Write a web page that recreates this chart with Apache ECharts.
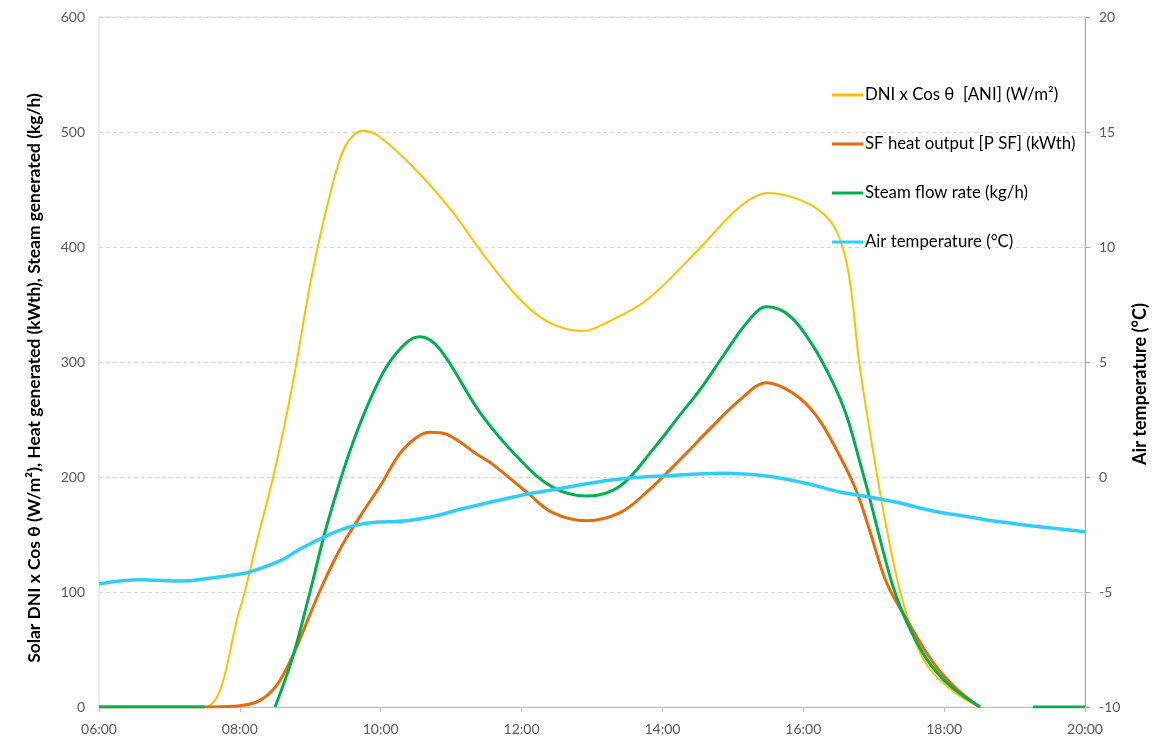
<!DOCTYPE html>
<html>
<head>
<meta charset="utf-8">
<script src="https://cdn.jsdelivr.net/npm/echarts@6/dist/echarts.min.js"></script>
<style>html,body{margin:0;padding:0;background:#fff;}#c{width:1162px;height:736px;}</style>
</head>
<body>
<div id="c"></div>
<script>
// ---- DATA (time in decimal hours) ----
const xTickLabels = ['06:00','08:00','10:00','12:00','14:00','16:00','18:00','20:00'];
const leftTicks = [0,100,200,300,400,500,600];
const rightTicks = [-10,-5,0,5,10,15,20];

const seriesNames = ['DNI x Cos θ  [ANI] (W/m²)','SF heat output [P SF] (kWth)','Steam flow rate (kg/h)','Air temperature (°C)'];
const leftTitle = 'Solar DNI x Cos θ (W/m²), Heat generated (kWth), Steam generated (kg/h)';
const rightTitle = 'Air temperature (°C)';

const dniHours  = [6.0, 6.75, 7.5, 8.0, 8.25, 8.5, 8.75, 9.0, 9.25, 9.5, 9.75, 10.0, 10.5, 11.0, 11.5, 12.0, 12.4, 12.85, 13.3, 13.8, 14.5, 15.1, 15.5, 15.95, 16.3, 16.5, 16.65, 16.8, 17.0, 17.2, 17.4, 17.7, 18.1, 18.5];
const dniValues = [0, 0, 0, 85, 146, 207, 281, 368, 438, 488, 501, 495, 467, 432, 390, 353, 334, 327, 337, 355, 397, 435, 447, 441, 428, 410, 375, 297, 219, 150, 95, 42, 15, 0];

const sfHours  = [6.0, 7.0, 7.6, 8.0, 8.28, 8.52, 8.75, 9.13, 9.42, 9.71, 9.99, 10.32, 10.70, 10.94, 11.41, 11.59, 12.07, 12.44, 12.92, 13.40, 13.78, 14.25, 14.63, 15.10, 15.48, 15.85, 16.19, 16.52, 16.76, 16.95, 17.18, 17.47, 17.84, 18.18, 18.51];
const sfValues = [0, 0, 0, 1, 5.5, 18.5, 44.5, 100, 137, 166, 192, 224, 239, 237, 218, 211, 187, 169, 162, 169, 187, 215, 239, 267, 282, 273, 253, 218, 187, 152, 108.5, 76, 39, 15.6, 0];

const steamHours  = [6.0, 7.5, 8.0, 8.50, 8.754, 8.996, 9.2, 9.4, 9.6, 9.848, 10.085, 10.369, 10.558, 10.842, 11.41, 11.978, 12.446, 12.925, 13.397, 13.866, 14.25, 14.535, 14.86, 15.196, 15.48, 15.81, 16.138, 16.42, 16.616, 16.805, 16.947, 17.09, 17.273, 17.468, 17.752, 18.083, 18.51, 18.9, 19.26, 20.0];
const steamValues = [0, 0, null, 0, 44, 100, 150, 192, 229, 267, 296, 317, 322, 311, 256, 215, 191, 183.5, 192, 224, 254, 276, 305, 334, 348, 340, 314, 282, 253, 212.7, 180.6, 146, 105, 74, 41.7, 18.5, 0, null, 0, 0];

const airHours  = [6.0, 6.58, 7.19, 7.62, 8.0, 8.14, 8.57, 8.85, 9.23, 9.52, 9.80, 10.37, 10.74, 11.17, 12.07, 12.45, 13.30, 14.15, 14.86, 15.48, 16.0, 16.52, 16.90, 17.37, 17.84, 18.32, 18.79, 19.26, 20.0];
const airValues = [-4.65, -4.47, -4.52, -4.38, -4.22, -4.13, -3.65, -3.14, -2.56, -2.2, -2.01, -1.9, -1.72, -1.37, -0.75, -0.55, -0.12, 0.07, 0.16, 0.04, -0.25, -0.65, -0.85, -1.13, -1.48, -1.72, -1.95, -2.13, -2.38];

const colors = ['#FFC000', '#E46C0A', '#00B050', '#33CCFF'];

function pairs(h, v) { return h.map((x, i) => [x, v[i] === null ? '-' : v[i]]); }

const FONT = 'Lato, "Open Sans", sans-serif';
const SMOOTH = 0.35;

// fit a bold title to a target pixel length
const mctx = document.createElement('canvas').getContext('2d');
function fitSize(text, target) {
  mctx.font = 'bold 20px ' + FONT;
  return 20 * target / mctx.measureText(text).width;
}
const leftSize = fitSize(leftTitle, 570);
const rightSize = fitSize(rightTitle, 162);

const chart = echarts.init(document.getElementById('c'), null, {renderer: 'canvas'});
chart.setOption({
  animation: false,
  color: colors,
  grid: {left: 99, right: 77, top: 17, bottom: 28, show: true, borderColor: '#D9D9D9', borderWidth: 1, backgroundColor: 'transparent'},
  legend: {
    orient: 'vertical', left: 827, top: 80,
    itemWidth: 31, itemHeight: 3, itemGap: 29,
    icon: 'rect',
    textStyle: {fontFamily: FONT, fontSize: 16.8, color: '#000', lineHeight: 20, padding: [0,0,0,-3]},
    data: seriesNames
  },
  xAxis: {
    type: 'value', min: 6, max: 20, interval: 2,
    axisLine: {show: true, lineStyle: {color: '#BFBFBF', width: 1}},
    axisTick: {show: true, length: 5, lineStyle: {color: '#BFBFBF'}},
    axisLabel: {fontFamily: FONT, fontSize: 14, color: '#595959', margin: 15,
      formatter: v => xTickLabels[Math.round((v - 6) / 2)]},
    splitLine: {show: false}
  },
  yAxis: [
    {
      type: 'value', min: 0, max: 600, interval: 100, position: 'left',
      axisLine: {show: false},
      axisTick: {show: false},
      axisLabel: {fontFamily: FONT, fontSize: 14, color: '#595959', margin: 14,
        formatter: v => String(leftTicks[Math.round(v / 100)])},
      splitLine: {show: true, lineStyle: {color: '#D9D9D9', type: [4, 3], width: 1}}
    },
    {
      type: 'value', min: -10, max: 20, interval: 5, position: 'right',
      axisLine: {show: true, lineStyle: {color: '#A6A6A6', width: 1}},
      axisTick: {show: true, inside: false, length: 5, lineStyle: {color: '#A6A6A6'}},
      axisLabel: {fontFamily: FONT, fontSize: 14, color: '#595959', margin: 14,
        formatter: v => String(rightTicks[Math.round((v + 10) / 5)])},
      splitLine: {show: false}
    }
  ],
  graphic: [
    {type: 'text', x: 34, y: 378, rotation: Math.PI / 2,
      style: {text: leftTitle, font: 'bold ' + leftSize.toFixed(2) + 'px ' + FONT, fill: '#000', textAlign: 'center', textVerticalAlign: 'middle'}},
    {type: 'text', x: 1140, y: 384, rotation: Math.PI / 2,
      style: {text: rightTitle, font: 'bold ' + rightSize.toFixed(2) + 'px ' + FONT, fill: '#000', textAlign: 'center', textVerticalAlign: 'middle'}}
  ],
  series: [
    {name: seriesNames[0], type: 'line', yAxisIndex: 0, data: pairs(dniHours, dniValues), smooth: SMOOTH, showSymbol: false, symbol: 'none',
      lineStyle: {width: 2, color: colors[0]}, z: 2},
    {name: seriesNames[1], type: 'line', yAxisIndex: 0, data: pairs(sfHours, sfValues), smooth: SMOOTH, showSymbol: false, symbol: 'none',
      lineStyle: {width: 3, color: colors[1]}, z: 3},
    {name: seriesNames[2], type: 'line', yAxisIndex: 0, data: pairs(steamHours, steamValues), smooth: SMOOTH, showSymbol: false, symbol: 'none',
      lineStyle: {width: 3, color: colors[2]}, z: 4},
    {name: seriesNames[3], type: 'line', yAxisIndex: 1, data: pairs(airHours, airValues), smooth: SMOOTH, showSymbol: false, symbol: 'none',
      lineStyle: {width: 3.5, color: colors[3]}, z: 5}
  ]
});
</script>
</body>
</html>
